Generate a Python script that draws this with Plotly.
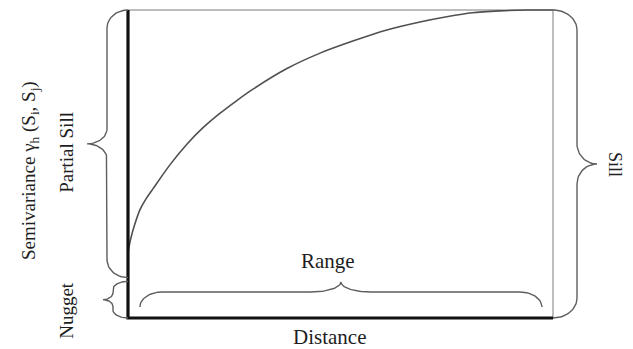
import math
import plotly.graph_objects as go

# ---- data ----
distance = [0, 0.6, 1.5, 2.8, 4.2, 5.9, 9.9, 13.9, 17.6, 21.6, 25.6, 29.4, 37.4,
            45.2, 52.9, 60.9, 68.7, 75.0, 81.0, 87.5, 94.0, 100]
semivariance = [21.4, 25.5, 30.0, 35.1, 38.6, 42.0, 49.8, 56.5, 61.7, 66.4, 70.6,
                74.3, 81.0, 86.0, 89.9, 93.5, 96.1, 97.8, 99.1, 99.7, 100, 100]
nugget = 12.5
sill = 100
max_distance = 100
range_start = 2.8
range_end = 97.4

labels = {
    "x": "Distance",
    "y": "Semivariance γ<sub>h</sub> (S<sub>i</sub>, S<sub>j</sub>)",
    "range": "Range",
    "partial": "Partial Sill",
    "nugget": "Nugget",
    "sill": "Sill",
}

# ---- layout geometry ----
W, H = 633, 349
SX, SY = 4.25, 3.08          # px per data unit
X0 = -128 / SX
X1 = X0 + W / SX
Y0 = -(H - 318) / SY
Y1 = Y0 + H / SY

FONT = "Liberation Serif, Times New Roman, serif"
TXT = "#1e1e1e"
BR = "#5e5e5e"


def brace(a, b, base, depth, tip, r_end, r_mid, vertical, sign):
    """Curly brace spanning a..b (data) on the tangent axis, at base (data) on
    the normal axis, extending outward by sign; sizes in px."""
    st, sn = (SY, SX) if vertical else (SX, SY)
    L = (b - a) * st
    half = []
    for k in range(21):
        th = math.pi - k * (math.pi / 2) / 20
        half.append((r_end + r_end * math.cos(th), depth * math.sin(th)))
    half.append((L / 2 - r_mid, depth))
    for k in range(21):
        th = -math.pi / 2 + k * (math.pi / 2) / 20
        half.append((L / 2 - r_mid + r_mid * math.cos(th), depth + tip + tip * math.sin(th)))
    pts = half + [(L - t, n) for (t, n) in reversed(half)]
    tt = [a + t / st for t, _ in pts]
    nn = [base + sign * n / sn for _, n in pts]
    return (nn, tt) if vertical else (tt, nn)


fig = go.Figure()

# frame: thin grey top and right
fig.add_trace(go.Scatter(x=[0, max_distance, max_distance], y=[sill, sill, 0], mode="lines",
                         line=dict(color="#a8a8a8", width=1.5), hoverinfo="skip"))

# variogram curve
fig.add_trace(go.Scatter(x=distance, y=semivariance, mode="lines",
                         line=dict(color="#505050", width=1.6, shape="spline", smoothing=0.8),
                         hoverinfo="skip"))

# thick axes
fig.add_trace(go.Scatter(x=[0, 0, max_distance], y=[sill, 0, 0], mode="lines",
                         line=dict(color="#111111", width=3.2), hoverinfo="skip"))

# braces
bx, by = brace(nugget + 0.6, sill, 0, 21, 20, 18, 15, True, -1)       # partial sill
fig.add_trace(go.Scatter(x=bx, y=by, mode="lines", line=dict(color=BR, width=1.4), hoverinfo="skip"))
bx, by = brace(0, nugget - 0.6, 0, 15, 10, 8, 7, True, -1)            # nugget
fig.add_trace(go.Scatter(x=bx, y=by, mode="lines", line=dict(color=BR, width=1.4), hoverinfo="skip"))
bx, by = brace(0, sill, max_distance, 24, 20, 20, 20, True, 1)       # sill
fig.add_trace(go.Scatter(x=bx, y=by, mode="lines", line=dict(color=BR, width=1.4), hoverinfo="skip"))
bx, by = brace(range_start, range_end, 11 / SY, 15, 10, 22, 30, False, 1)  # range
fig.add_trace(go.Scatter(x=bx, y=by, mode="lines", line=dict(color=BR, width=1.4), hoverinfo="skip"))

ann = [
    dict(x=47.5, y=-6.2, text=labels["x"], textangle=0, size=21),
    dict(x=47.1, y=18.5, text=labels["range"], textangle=0, size=21),
    dict(x=-23.1, y=48.0, text=labels["y"], textangle=-90, size=19),
    dict(x=-14.4, y=53.9, text=labels["partial"], textangle=-90, size=19),
    dict(x=-14.4, y=2.6, text=labels["nugget"], textangle=-90, size=19),
    dict(x=114.6, y=50.0, text=labels["sill"], textangle=90, size=18),
]
for a in ann:
    fig.add_annotation(x=a["x"], y=a["y"], xref="x", yref="y", text=a["text"],
                       textangle=a["textangle"], showarrow=False,
                       font=dict(family=FONT, size=a["size"], color=TXT),
                       xanchor="center", yanchor="middle")

fig.update_layout(
    width=W, height=H, autosize=False,
    margin=dict(l=0, r=0, t=0, b=0),
    paper_bgcolor="white", plot_bgcolor="white",
    showlegend=False,
    xaxis=dict(range=[X0, X1], visible=False, fixedrange=True),
    yaxis=dict(range=[Y0, Y1], visible=False, fixedrange=True),
)

fig.write_html("out.html", config={"displayModeBar": False})
